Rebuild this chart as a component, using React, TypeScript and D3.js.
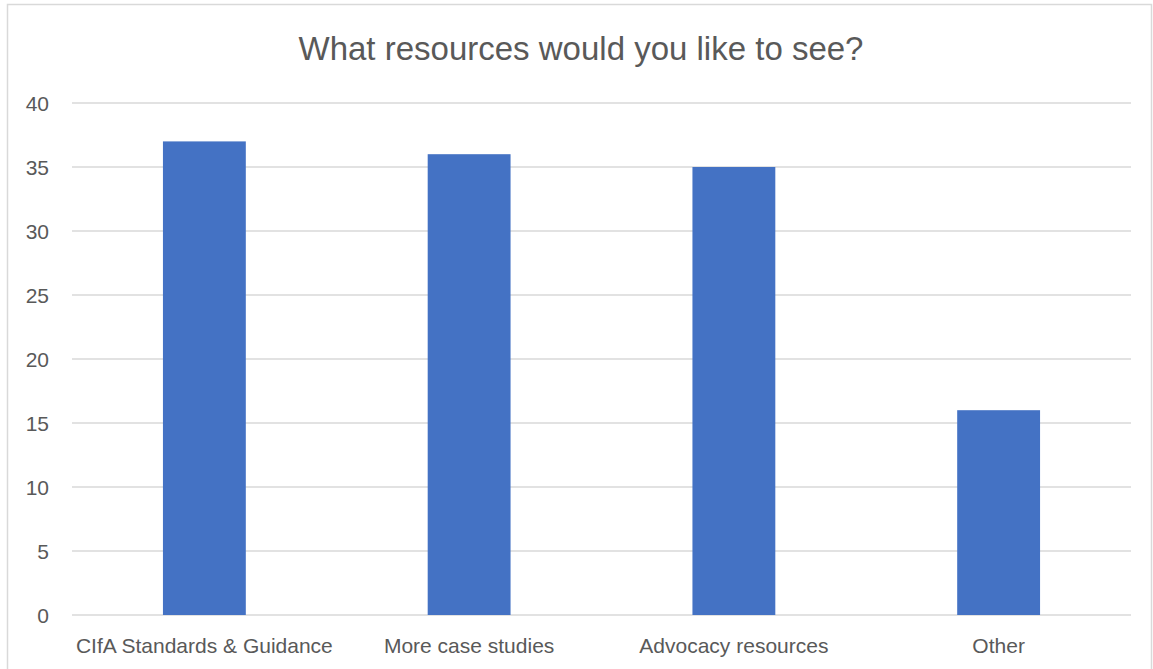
import React from "react";
import * as d3 from "d3";

const categories = ["CIfA Standards & Guidance", "More case studies", "Advocacy resources", "Other"];
const values = [37, 36, 35, 16];
const yTicks = [0, 5, 10, 15, 20, 25, 30, 35, 40];
const title = "What resources would you like to see?";

export default function App() {
  const W = 1153, H = 669;
  const left = 72, right = 1131, top = 103, bottom = 615;
  const x = d3.scaleBand<string>().domain(categories).range([left, right]).padding(0);
  const y = d3.scaleLinear().domain([0, 40]).range([bottom, top]);
  const bw = x.bandwidth() * 0.313;
  const font = "'Liberation Sans', Arial, sans-serif";
  return (
    <svg width={W} height={H} style={{ position: "absolute", left: 0, top: 0 }}>
      <rect x={0} y={0} width={W} height={H} fill="#fff" />
      <rect x={7.5} y={4.5} width={1144} height={700} fill="none" stroke="#D9D9D9" strokeWidth={1.5} />
      <text x={581} y={60} textAnchor="middle" fontFamily={font} fontSize={33} fill="#595959">{title}</text>
      {yTicks.map((t) => (
        <g key={t}>
          <line x1={left} x2={right} y1={y(t)} y2={y(t)} stroke="#D9D9D9" strokeWidth={1.5} />
          <text x={49} y={y(t)} dy="0.36em" textAnchor="end" fontFamily={font} fontSize={21} fill="#595959">{t}</text>
        </g>
      ))}
      {categories.map((c, i) => {
        const cx = (x(c) as number) + x.bandwidth() / 2;
        return (
          <g key={c}>
            <rect x={cx - bw / 2} y={y(values[i])} width={bw} height={y(0) - y(values[i])} fill="#4472C4" />
            <text x={cx} y={653} textAnchor="middle" fontFamily={font} fontSize={21} fill="#595959">{c}</text>
          </g>
        );
      })}
    </svg>
  );
}
